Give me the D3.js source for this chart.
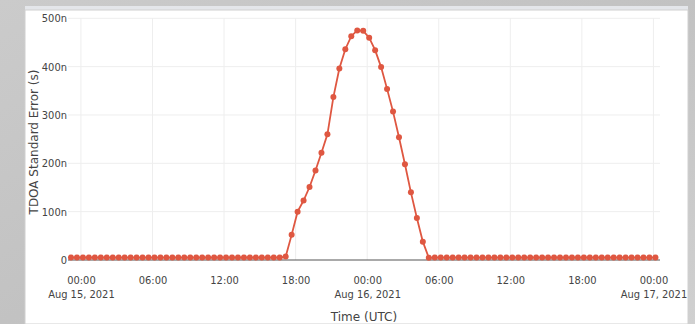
<!DOCTYPE html>
<html>
<head>
<meta charset="utf-8">
<script src="https://cdn.jsdelivr.net/npm/d3@7"></script>
<style>
  body { margin: 0; overflow: hidden; }
  svg { display: block; }
  text { font-family: "DejaVu Sans Condensed", "DejaVu Sans", sans-serif; }
</style>
</head>
<body>
<svg id="chart" width="695" height="324"></svg>
<script>
// half-hourly samples, 23:10 Aug 14 -> 00:10 Aug 17 (UTC)
const startTime = "2021-08-14T23:10:00Z";
const stepMinutes = 30;
// TDOA standard error, nanoseconds
const flatBefore = [5, 5, 5, 5, 5, 5, 5, 5, 5, 5, 5, 5, 5, 5, 5, 5, 5, 5,
                    5, 5, 5, 5, 5, 5, 5, 5, 5, 5, 5, 5, 5, 5, 5, 5, 5, 5];
const pass = [7, 52, 100, 123, 151, 185, 222, 260, 337, 396, 436, 463, 475,
              474, 460, 434, 399, 354, 307, 254, 198, 140, 87, 38, 4.5];
const flatAfter = [5, 5, 5, 5, 5, 5, 5, 5, 5, 5, 5, 5, 5, 5, 5, 5, 5, 5, 5,
                   5, 5, 5, 5, 5, 5, 5, 5, 5, 5, 5, 5, 5, 5, 5, 5, 5, 5, 5];
const yTicks = [0, 100, 200, 300, 400, 500];
const yTickLabels = ["0", "100n", "200n", "300n", "400n", "500n"];
const xTicks = ["2021-08-15T00:00:00Z", "2021-08-15T06:00:00Z", "2021-08-15T12:00:00Z",
                "2021-08-15T18:00:00Z", "2021-08-16T00:00:00Z", "2021-08-16T06:00:00Z",
                "2021-08-16T12:00:00Z", "2021-08-16T18:00:00Z", "2021-08-17T00:00:00Z"];
const xRange = ["2021-08-14T22:55:00Z", "2021-08-17T00:33:00Z"];

const values = flatBefore.concat(pass, flatAfter);
const t0 = new Date(startTime).getTime();
const data = values.map((v, i) => ({ t: new Date(t0 + i * stepMinutes * 60000), v: v }));

const svg = d3.select("#chart");
const W = 695, H = 324;

/// grey backdrop
const defs = svg.append("defs");
const bg = defs.append("linearGradient").attr("id", "bg").attr("x1", 0).attr("y1", 0).attr("x2", 1).attr("y2", 1);
bg.append("stop").attr("offset", "0%").attr("stop-color", "#cbcbcb");
bg.append("stop").attr("offset", "50%").attr("stop-color", "#c2c2c2");
bg.append("stop").attr("offset", "100%").attr("stop-color", "#d0d0d0");
svg.append("rect").attr("width", W).attr("height", H).attr("fill", "url(#bg)");
svg.append("rect").attr("x", 25).attr("y", 6).attr("width", 663).attr("height", 5).attr("fill", "#e4e6ea");
svg.append("rect").attr("x", 25).attr("y", 10).attr("width", 663).attr("height", H - 10)
  .attr("fill", "#fff").attr("stroke", "#d0d0d0").attr("stroke-width", 1);

const m = { left: 68, right: 660, top: 18, bottom: 260 };

const x = d3.scaleUtc()
  .domain(xRange.map(d => new Date(d)))
  .range([m.left, m.right]);
const y = d3.scaleLinear()
  .domain([0, 500])
  .range([m.bottom, m.top + 0.3]);

/// grid
svg.append("g").selectAll("line").data(xTicks).join("line")
  .attr("x1", d => x(new Date(d))).attr("x2", d => x(new Date(d)))
  .attr("y1", m.top).attr("y2", m.bottom)
  .attr("stroke", "#eeeeee").attr("stroke-width", 1);
svg.append("g").selectAll("line").data(yTicks.slice(1)).join("line")
  .attr("x1", m.left).attr("x2", m.right)
  .attr("y1", d => y(d)).attr("y2", d => y(d))
  .attr("stroke", "#eeeeee").attr("stroke-width", 1);

/// x axis (labels only)
const xAxis = d3.axisBottom(x)
  .tickValues(xTicks.map(d => new Date(d)))
  .tickSize(0)
  .tickPadding(0)
  .tickFormat(() => "");
const gx = svg.append("g").attr("transform", "translate(0," + m.bottom + ")").call(xAxis);
gx.select(".domain").remove();
gx.selectAll(".tick").each(function(d) {
  const t = d3.select(this);
  t.append("text").attr("y", 24).attr("fill", "#444").attr("font-size", 11)
    .attr("text-anchor", "middle").text(d3.utcFormat("%H:%M")(d));
  if (d.getUTCHours() === 0)
    t.append("text").attr("y", 38).attr("fill", "#444").attr("font-size", 11)
      .attr("text-anchor", "middle").text(d3.utcFormat("%b %-d, %Y")(d));
});

/// y axis
const yAxis = d3.axisLeft(y)
  .tickValues(yTicks)
  .tickSize(0)
  .tickPadding(1)
  .tickFormat((d, i) => yTickLabels[i]);
const gy = svg.append("g").attr("transform", "translate(" + m.left + ",0)").call(yAxis);
gy.select(".domain").remove();
gy.selectAll("text").attr("font-size", 11).attr("fill", "#444")
  .style("font-family", "\"DejaVu Sans Condensed\", \"DejaVu Sans\", sans-serif");

/// zero line
svg.append("line")
  .attr("x1", m.left).attr("x2", m.right)
  .attr("y1", y(0)).attr("y2", y(0))
  .attr("stroke", "#555").attr("stroke-width", 1);

/// titles
svg.append("text").attr("x", 364).attr("y", 321).attr("text-anchor", "middle")
  .attr("font-size", 12).attr("fill", "#444")
  .style("font-family", "\"DejaVu Sans\", sans-serif").text("Time (UTC)");
svg.append("text").attr("transform", "translate(38,142) rotate(-90)").attr("text-anchor", "middle")
  .attr("font-size", 12).attr("fill", "#444")
  .style("font-family", "\"DejaVu Sans\", sans-serif").text("TDOA Standard Error (s)");

/// series
const color = "#df5741";
const line = d3.line().x(d => x(d.t)).y(d => y(d.v));
svg.append("path").datum(data)
  .attr("d", line)
  .attr("fill", "none")
  .attr("stroke", color)
  .attr("stroke-width", 1.8);
svg.append("g").selectAll("circle").data(data).join("circle")
  .attr("cx", d => x(d.t)).attr("cy", d => y(d.v)).attr("r", 3)
  .attr("fill", color);
</script>
</body>
</html>
